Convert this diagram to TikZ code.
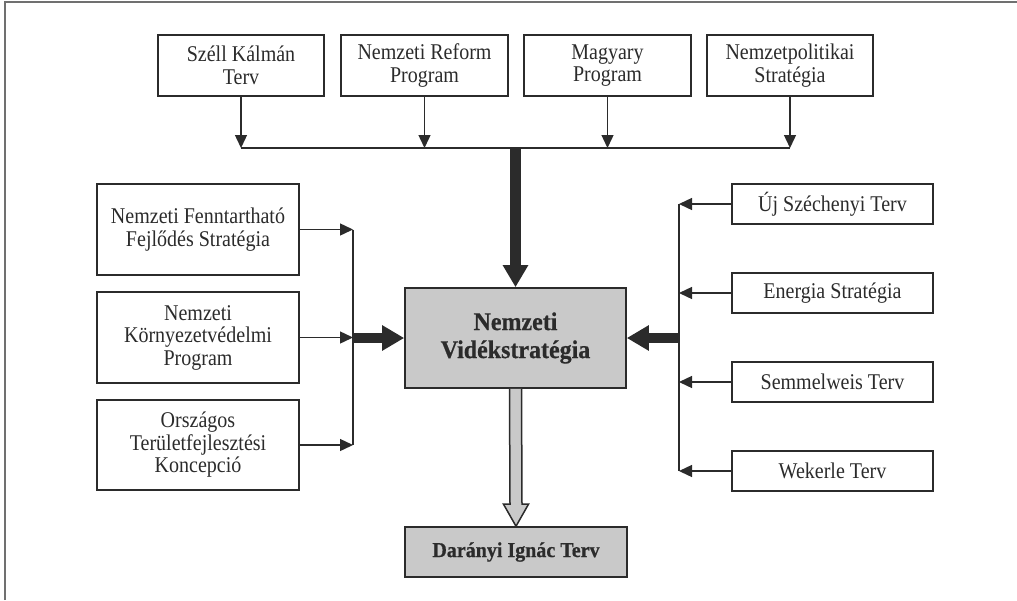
\documentclass[tikz,border=0pt]{standalone}
\usepackage{fontspec}
\setmainfont{Liberation Serif}
\newfontfamily\boxfont[FakeStretch=0.89]{Liberation Serif}
\newfontfamily\boldfont[FakeStretch=0.94,FakeBold=0.6]{Liberation Serif Bold}
\usetikzlibrary{arrows.meta,calc}
\definecolor{ink}{HTML}{2B2B2B}
\definecolor{boxfill}{HTML}{C9C9C9}
\definecolor{framec}{HTML}{707070}
\tikzset{
  plainbox/.style={draw=ink, line width=1.6pt, inner sep=0pt, align=center, text=ink,
    font=\boxfont\fontsize{22.5}{22.5}\selectfont},
  greybox/.style={plainbox, fill=boxfill},
  thin/.style={draw=ink, line width=1.4pt},
  thinarrow/.style={thin, -{Triangle[length=13pt,width=12pt]}},
  fatarrow/.style={draw=ink, line width=10.5pt, -{Triangle[length=22pt,width=24pt]}},
  hollowarrow/.style={draw=ink, line width=1.5pt, fill=boxfill, line join=miter},
}
\begin{document}
\begin{tikzpicture}[x=1pt,y=-1pt]
\useasboundingbox (0,0) rectangle (1017,600);
% open frame (top and left)
\draw[framec, line width=2pt] (4.5,600) -- (4.5,2) -- (1017,2);

% top row
\node[plainbox, minimum width=166pt, minimum height=61pt] (szell) at (241,65.5) {Széll Kálmán\\Terv};
\node[plainbox, minimum width=167pt, minimum height=61pt] (reform) at (424.5,65.5) {Nemzeti Reform\\Program};
\node[plainbox, minimum width=167pt, minimum height=61pt] (magyary) at (607.5,65.5) {Magyary\\Program};
\node[plainbox, minimum width=166pt, minimum height=61pt] (npol) at (790,65.5) {Nemzetpolitikai\\Stratégia};

% central
\node[greybox, minimum width=221pt, minimum height=100pt,
  font=\boldfont\fontsize{25.5}{28}\selectfont] (cen) at (515.5,338) {Nemzeti\\Vidékstratégia};

% left column
\node[plainbox, minimum width=202pt, minimum height=91pt] (nfs) at (198,229.5) {Nemzeti Fenntartható\\Fejlődés Stratégia};
\node[plainbox, minimum width=202pt, minimum height=91pt] (nkp) at (198,337.5) {Nemzeti\\Környezetvédelmi\\Program};
\node[plainbox, minimum width=202pt, minimum height=90pt] (otk) at (198,445) {Országos\\Területfejlesztési\\Koncepció};

% right column
\node[plainbox, minimum width=201pt, minimum height=40pt] (uj) at (832.5,204) {Új Széchenyi Terv};
\node[plainbox, minimum width=201pt, minimum height=40pt] (en) at (832.5,293) {Energia Stratégia};
\node[plainbox, minimum width=201pt, minimum height=40pt] (sem) at (832.5,382) {Semmelweis Terv};
\node[plainbox, minimum width=201pt, minimum height=40pt] (wek) at (832.5,471) {Wekerle Terv};

% bottom
\node[greybox, minimum width=222pt, minimum height=50pt, font=\boldfont\fontsize{21.3}{22}\selectfont] (dar) at (516,552) {Darányi Ignác Terv};

% bus coordinates
\coordinate (t1) at (szell.center |- 0,148);
\coordinate (t2) at (reform.center |- 0,148);
\coordinate (t3) at (magyary.center |- 0,148);
\coordinate (t4) at (npol.center |- 0,148);
\coordinate (tc) at (cen.north |- 0,148);
\coordinate (l1) at (353,0 |- nfs.east);
\coordinate (l2) at (353,0 |- nkp.east);
\coordinate (l3) at (353,0 |- otk.east);
\coordinate (lc) at (353,0 |- cen.west);
\coordinate (r1) at (679,0 |- uj.west);
\coordinate (r2) at (679,0 |- en.west);
\coordinate (r3) at (679,0 |- sem.west);
\coordinate (r4) at (679,0 |- wek.west);
\coordinate (rc) at (679,0 |- cen.east);

% top connectors
\draw[thinarrow] (szell.south) -- (t1);
\draw[thinarrow] (reform.south) -- (t2);
\draw[thinarrow] (magyary.south) -- (t3);
\draw[thinarrow] (npol.south) -- (t4);
\draw[thin] (t1) -- (t4);
\draw[fatarrow] (tc) -- (cen.north);

% left connectors
\draw[thinarrow] (nfs.east) -- (l1);
\draw[thinarrow] (nkp.east) -- (l2);
\draw[thinarrow] (otk.east) -- (l3);
\draw[thin] (l1) -- (l3);
\draw[fatarrow] (lc) -- (cen.west);

% right connectors
\draw[thinarrow] (uj.west) -- (r1);
\draw[thinarrow] (en.west) -- (r2);
\draw[thinarrow] (sem.west) -- (r3);
\draw[thinarrow] (wek.west) -- (r4);
\draw[thin] (r1) -- (r4);
\draw[fatarrow] (rc) -- (cen.east);

% hollow arrow to bottom box
\draw[hollowarrow]
  ([xshift=-6pt]cen.south) -- ($(dar.north)+(-6,-22)$) -- ($(dar.north)+(-12.5,-22)$)
  -- (dar.north) -- ($(dar.north)+(12.5,-22)$) -- ($(dar.north)+(6,-22)$)
  -- ([xshift=6pt]cen.south);
\end{tikzpicture}
\end{document}
